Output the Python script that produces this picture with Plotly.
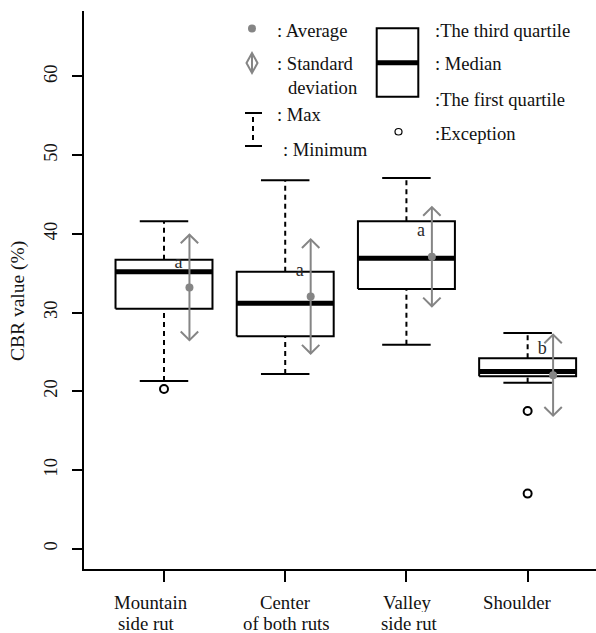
import plotly.graph_objects as go

# ---------------- data ----------------
categories = ["Mountain<br>side rut", "Center<br>of both ruts", "Valley<br>side rut", "Shoulder"]
positions = [1, 2, 3, 4]
q1 = [30.5, 27.0, 33.0, 21.9]
medians = [35.2, 31.2, 36.9, 22.5]
q3 = [36.7, 35.2, 41.6, 24.2]
whisker_low = [21.3, 22.2, 25.9, 21.1]
whisker_high = [41.6, 46.8, 47.1, 27.4]
means = [33.2, 32.05, 37.1, 22.05]
sds = [6.7, 7.25, 6.3, 5.15]
outlier_pos = [1, 4, 4]
outlier_val = [20.3, 17.5, 7.0]
letters = ["a", "a", "a", "b"]
letter_y = [36.3, 35.2, 40.3, 25.3]
y_ticks = [0, 10, 20, 30, 40, 50, 60]

# ---------------- styles ----------------
FONT = "Liberation Serif, Times New Roman, serif"
BLACK = "#000000"
GRAY = "#858585"
TXT = "#111111"
BOX_HALF = 0.4
CAP_HALF = 0.2
MEAN_OFF = 0.21
LETTER_OFF = 0.12
HEAD_DX = 0.072
HEAD_DY = 1.1
LABEL_SHIFT = [[-13, -18], [0, 1], [1, 3], [-10]]  # px shifts of each category-label line

fig = go.Figure()

# boxes
bx, by = [], []
for p, a, b in zip(positions, q1, q3):
    bx += [p - BOX_HALF, p + BOX_HALF, p + BOX_HALF, p - BOX_HALF, p - BOX_HALF, None]
    by += [a, a, b, b, a, None]
fig.add_trace(go.Scatter(x=bx, y=by, mode="lines", fill="toself", fillcolor="white",
                         line=dict(color=BLACK, width=2), hoverinfo="skip"))

# medians
mx, my = [], []
for p, m in zip(positions, medians):
    mx += [p - BOX_HALF, p + BOX_HALF, None]
    my += [m, m, None]
fig.add_trace(go.Scatter(x=mx, y=my, mode="lines", line=dict(color=BLACK, width=5), hoverinfo="skip"))

# dashed whiskers
wx, wy = [], []
for p, lo, a, b, hi in zip(positions, whisker_low, q1, q3, whisker_high):
    wx += [p, p, None, p, p, None]
    wy += [b, hi, None, lo, a, None]
fig.add_trace(go.Scatter(x=wx, y=wy, mode="lines",
                         line=dict(color=BLACK, width=2, dash="5px,4px"), hoverinfo="skip"))

# caps
cx, cy = [], []
for p, lo, hi in zip(positions, whisker_low, whisker_high):
    cx += [p - CAP_HALF, p + CAP_HALF, None, p - CAP_HALF, p + CAP_HALF, None]
    cy += [hi, hi, None, lo, lo, None]
fig.add_trace(go.Scatter(x=cx, y=cy, mode="lines", line=dict(color=BLACK, width=2), hoverinfo="skip"))

# outliers
fig.add_trace(go.Scatter(x=outlier_pos, y=outlier_val, mode="markers",
                         marker=dict(symbol="circle-open", size=8, color=BLACK, line=dict(width=2)),
                         hoverinfo="skip"))

# SD arrows
ax_, ay_ = [], []
for p, m, s in zip(positions, means, sds):
    xm = p + MEAN_OFF
    top, bot = m + s, m - s
    ax_ += [xm, xm, None]
    ay_ += [bot, top, None]
    ax_ += [xm - HEAD_DX, xm, xm + HEAD_DX, None]
    ay_ += [top - HEAD_DY, top, top - HEAD_DY, None]
    ax_ += [xm - HEAD_DX, xm, xm + HEAD_DX, None]
    ay_ += [bot + HEAD_DY, bot, bot + HEAD_DY, None]
fig.add_trace(go.Scatter(x=ax_, y=ay_, mode="lines", line=dict(color=GRAY, width=2), hoverinfo="skip"))

# means
fig.add_trace(go.Scatter(x=[p + MEAN_OFF for p in positions], y=means, mode="markers",
                         marker=dict(symbol="circle", size=8, color=GRAY), hoverinfo="skip"))

# significance letters
fig.add_trace(go.Scatter(x=[p + LETTER_OFF for p in positions], y=letter_y, mode="text",
                         text=letters, textposition="middle center",
                         textfont=dict(family=FONT, size=18, color="#2a2a2a"), hoverinfo="skip"))

# ---------------- legend drawn in the top right ----------------
L, T, W, H = 84, 11, 512, 558


def px(x):
    return (x - L) / W


def py(y):
    return (T + H - y) / H


shapes = []
# average dot
shapes.append(dict(type="circle", xref="paper", yref="paper", x0=px(248), x1=px(256),
                   y0=py(32.5), y1=py(24.5), fillcolor=GRAY, line=dict(color=GRAY, width=0)))
# sd diamond
shapes.append(dict(type="path", xref="paper", yref="paper",
                   path="M {a},{b} L {c},{d} L {e},{b} L {c},{f} Z".format(
                       a=px(246.5), b=py(63), c=px(252), d=py(53), e=px(257.5), f=py(73)),
                   line=dict(color=GRAY, width=2)))
shapes.append(dict(type="line", xref="paper", yref="paper", x0=px(252), x1=px(252),
                   y0=py(53), y1=py(73), line=dict(color=GRAY, width=2)))
# max / min
shapes.append(dict(type="line", xref="paper", yref="paper", x0=px(245), x1=px(262),
                   y0=py(113), y1=py(113), line=dict(color=BLACK, width=2)))
shapes.append(dict(type="line", xref="paper", yref="paper", x0=px(245), x1=px(262),
                   y0=py(146), y1=py(146), line=dict(color=BLACK, width=2)))
shapes.append(dict(type="line", xref="paper", yref="paper", x0=px(253), x1=px(253),
                   y0=py(117), y1=py(143), line=dict(color=BLACK, width=2, dash="5px,4px")))
# box
shapes.append(dict(type="rect", xref="paper", yref="paper", x0=px(376.7), x1=px(418.3),
                   y0=py(96.7), y1=py(28.3), line=dict(color=BLACK, width=2)))
shapes.append(dict(type="line", xref="paper", yref="paper", x0=px(376.7), x1=px(418.3),
                   y0=py(62.7), y1=py(62.7), line=dict(color=BLACK, width=5)))
# exception circle
shapes.append(dict(type="circle", xref="paper", yref="paper", x0=px(395), x1=px(402),
                   y0=py(135), y1=py(128.5), line=dict(color=BLACK, width=1.2)))

legend_text = [
    (275, 30.7, ": Average"),
    (275, 63.3, ": Standard"),
    (286, 87.3, "deviation"),
    (275, 115, ": Max"),
    (281, 149.3, ": Minimum"),
    (433, 30.7, ":The third quartile"),
    (433, 63.3, ": Median"),
    (433, 99, ":The first quartile"),
    (433, 133.3, ":Exception"),
]
annotations = []
for x, y, t in legend_text:
    annotations.append(dict(x=px(x), y=py(y), xref="paper", yref="paper", text=t,
                            showarrow=False, xanchor="left", yanchor="middle",
                            font=dict(family=FONT, size=18.6, color=TXT)))

# category labels (one annotation per line, anchored on the category positions)
for p, lab, shifts in zip(positions, categories, LABEL_SHIFT):
    for k, (line, dx) in enumerate(zip(lab.split("<br>"), shifts)):
        annotations.append(dict(x=p, y=py(602 + 21 * k), xref="x", yref="paper", text=line,
                                xshift=dx, showarrow=False, xanchor="center", yanchor="middle",
                                height=19, borderpad=0,
                                font=dict(family=FONT, size=18.8, color=TXT)))

# y axis title
annotations.append(dict(x=px(18), y=py(301), xref="paper", yref="paper", text="CBR value (%)",
                        textangle=-90, showarrow=False, xanchor="center", yanchor="middle",
                        font=dict(family=FONT, size=19.5, color=TXT)))

fig.update_layout(
    width=596, height=633,
    margin=dict(l=L, r=596 - L - W, t=T, b=633 - T - H, pad=0),
    paper_bgcolor="white", plot_bgcolor="white",
    showlegend=False,
    shapes=shapes, annotations=annotations,
    xaxis=dict(range=[0.34, 4.564], tickmode="array", tickvals=positions, showticklabels=False,
               ticks="outside", ticklen=11, tickwidth=2, tickcolor=BLACK,
               showline=True, linewidth=2, linecolor=BLACK, showgrid=False, zeroline=False),
    yaxis=dict(range=[-2.58, 68.32], tickmode="array", tickvals=y_ticks,
               ticks="outside", ticklen=10, tickwidth=2, tickcolor=BLACK, tickangle=-90,
               showline=True, linewidth=2, linecolor=BLACK, showgrid=False, zeroline=False,
               tickfont=dict(family=FONT, size=18.5, color=TXT), ticklabelstandoff=8),
)

fig.write_html("out.html")
